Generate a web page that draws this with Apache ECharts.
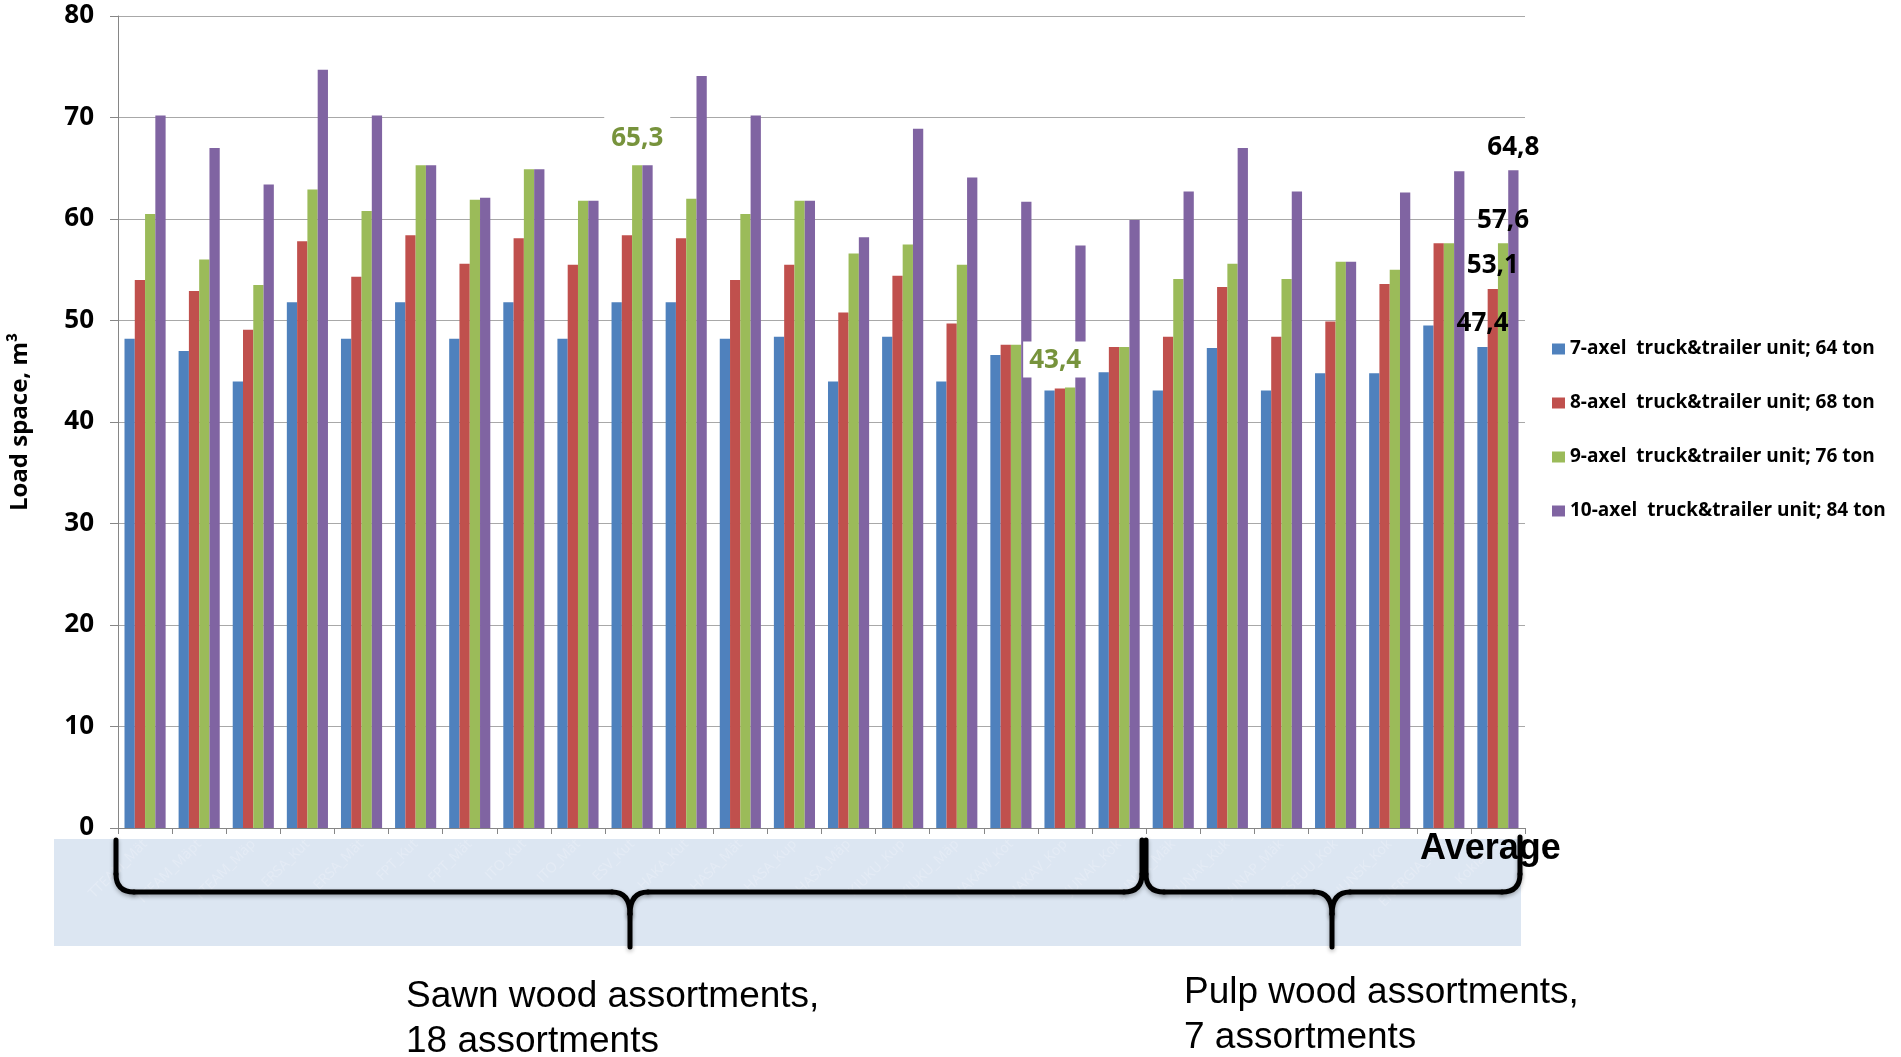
<!DOCTYPE html>
<html><head><meta charset="utf-8">
<script src="https://cdn.jsdelivr.net/npm/echarts@6/dist/echarts.min.js"></script>
<style>html,body{margin:0;padding:0;background:#fff}#chart{width:1901px;height:1057px}</style>
</head><body><div id="chart"></div>
<script>
const categories = ['TTEAM_Mät','TTEAM_Mäpt','TTEAM_Mäp','ERSA_Kut','ERSA_Mät','FPT_Kut','FPT_Mät','ITO_Kut','ITO_Mät','ESV_Kut','HAKA_Kut','HASA_Mät','HASA_Kup','HASA_Mäp','KIUKU_Kup','KIUKU_Mäp','HAKAW_Kot','HAKAV_Kop','JUNAK_Kok','JUNAK_Mäk','JUNAK_Kuk','JUNAP_Mäk','SSEUU_Kok','JUNSK_Kok','ENERGIA_Kok','Kokiarvo'];
const seriesNames = ['7-axel  truck&trailer unit; 64 ton','8-axel  truck&trailer unit; 68 ton','9-axel  truck&trailer unit; 76 ton','10-axel  truck&trailer unit; 84 ton'];
const axel7 = [48.2,47.0,44.0,51.8,48.2,51.8,48.2,51.8,48.2,51.8,51.8,48.2,48.4,44.0,48.4,44.0,46.6,43.1,44.9,43.1,47.3,43.1,44.8,44.8,49.5,47.4];
const axel8 = [54.0,52.9,49.1,57.8,54.3,58.4,55.6,58.1,55.5,58.4,58.1,54.0,55.5,50.8,54.4,49.7,47.6,43.3,47.4,48.4,53.3,48.4,49.9,53.6,57.6,53.1];
const axel9 = [60.5,56.0,53.5,62.9,60.8,65.3,61.9,64.9,61.8,65.3,62.0,60.5,61.8,56.6,57.5,55.5,47.6,43.4,47.4,54.1,55.6,54.1,55.8,55.0,57.6,57.6];
const axel10 = [70.2,67.0,63.4,74.7,70.2,65.3,62.1,64.9,61.8,65.3,74.1,70.2,61.8,58.2,68.9,64.1,61.7,57.4,59.9,62.7,67.0,62.7,55.8,62.6,64.7,64.8];
const yTicks = [0,10,20,30,40,50,60,70,80];
const colors = ['#4F81BD','#C0504D','#9BBB59','#8064A2'];
const FONT = "'Open Sans', sans-serif";
const fmt = v => v.toFixed(1).replace('.', ',');

const avgIdx = categories.length - 1;
const greenLbl = {color:'#77933C', backgroundColor:'#fff'};
const labelled = {
  '2-9': Object.assign({padding:[12,7,4,7]}, greenLbl),
  '2-17': Object.assign({padding:[6,6,4,6], offset:[-15,0]}, greenLbl),
  ['0-'+avgIdx]: {color:'#000'},
  ['1-'+avgIdx]: {color:'#000'},
  ['2-'+avgIdx]: {color:'#000'},
  ['3-'+avgIdx]: {color:'#000'}
};
function build(si, arr){
  return arr.map((v,i)=>{
    const l = labelled[si+'-'+i];
    if(!l) return v;
    return {value:v, label:Object.assign({show:true, position:'top', distance:10, fontFamily:FONT, fontWeight:'bold', fontSize:26, formatter:p=>fmt(p.value)}, l)};
  });
}
const dataSets = [axel7, axel8, axel9, axel10];

const chart = echarts.init(document.getElementById('chart'));
const series = dataSets.map((d,si)=>({
  name: seriesNames[si], type:'bar', data: build(si,d),
  barGap:'0%', barCategoryGap:'24%',
  itemStyle:{color:colors[si]}, label:{show:false}
}));

const braceStyle = {fill:null, stroke:'#000', lineWidth:5, shadowBlur:4, shadowColor:'rgba(0,0,0,0.3)', shadowOffsetY:2, lineCap:'round'};
function braceEls(x0, x1, xc, yTop0, yTop1, yh, yTip){
  const r = 18, d = yh + r + 4;
  const L = (a,b,c,e)=>({type:'line', z:60, shape:{x1:a,y1:b,x2:c,y2:e}, style:braceStyle});
  const B = (a,b,c,e,cx,cy)=>({type:'bezierCurve', z:60, shape:{x1:a,y1:b,x2:c,y2:e,cpx1:cx,cpy1:cy}, style:braceStyle});
  return [
    L(x0,yTop0,x0,yh-r), B(x0,yh-r,x0+r,yh,x0,yh), L(x0+r,yh,xc-r,yh),
    B(xc-r,yh,xc,d,xc,yh), L(xc,d,xc,yTip), B(xc+r,yh,xc,d,xc,yh),
    L(xc+r,yh,x1-r,yh), B(x1-r,yh,x1,yh-r,x1,yh), L(x1,yh-r,x1,yTop1)
  ];
}

chart.setOption({
  animation:false,
  color: colors,
  grid:{left:110, right:376, top:16, bottom:229, containLabel:false},
  legend:{
    orient:'vertical', left:1547, top:334, itemWidth:13, itemHeight:11, itemGap:34,
    icon:'rect',
    textStyle:{fontFamily:FONT, fontWeight:'bold', fontSize:19, color:'#000', lineHeight:20}
  },
  xAxis:{
    type:'category', data:categories,
    axisLine:{lineStyle:{color:'#868686', width:1}},
    axisTick:{show:true, length:6, lineStyle:{color:'#868686'}},
    axisLabel:{rotate:45, interval:0, margin:14, fontFamily:FONT, fontSize:14, color:'#e4ebf5'}
  },
  yAxis:{
    type:'value', min:yTicks[0], max:yTicks[yTicks.length-1], interval:10,
    name:'Load space, m³', nameLocation:'middle', nameRotate:90, nameGap:86,
    nameTextStyle:{fontFamily:FONT, fontWeight:'bold', fontSize:24, color:'#000'},
    axisLine:{show:true, lineStyle:{color:'#868686'}},
    axisTick:{show:true, length:8, lineStyle:{color:'#868686'}},
    axisLabel:{fontFamily:FONT, fontWeight:'bold', fontSize:26, color:'#000', margin:24},
    splitLine:{lineStyle:{color:'#a8a8a8', width:1.2}}
  },
  graphic:[
    {type:'rect', z:-5, shape:{x:54, y:839, width:1467, height:107}, style:{fill:'#dce6f2'}},
    {type:'text', z:50, x:1420, y:849, style:{text:'Average', font:'bold 36px "Liberation Sans", Arial, sans-serif', fill:'#000', verticalAlign:'middle', textVerticalAlign:'middle'}}
  ].concat(braceEls(116,1142,630,840,840,892,947), braceEls(1146,1520,1332,840,837,892,947), [
    {type:'text', z:50, x:406, y:974, style:{text:'Sawn wood assortments,\n18 assortments', font:'37px "Liberation Sans", Arial, sans-serif', lineHeight:45, fill:'#000'}},
    {type:'text', z:50, x:1184, y:970, style:{text:'Pulp wood assortments,\n7 assortments', font:'37px "Liberation Sans", Arial, sans-serif', lineHeight:45, fill:'#000'}}
  ]),
  series: series
});
</script></body></html>
